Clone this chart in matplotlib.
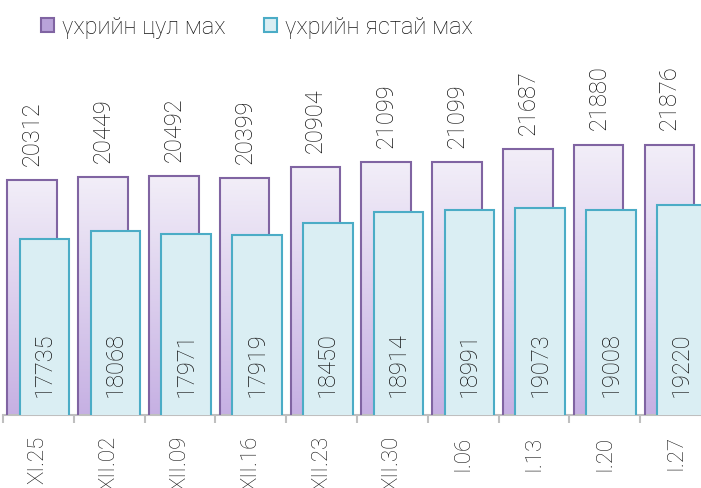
import matplotlib.pyplot as plt
import numpy as np
from matplotlib.colors import LinearSegmentedColormap

# өгөгдөл
dates = ["XI.25", "XII.02", "XII.09", "XII.16", "XII.23", "XII.30", "I.06", "I.13", "I.20", "I.27"]
tsul = [20312, 20449, 20492, 20399, 20904, 21099, 21099, 21687, 21880, 21876]
yastai = [17735, 18068, 17971, 17919, 18450, 18914, 18991, 19073, 19008, 19220]

plt.rcParams['font.family'] = ['Roboto', 'DejaVu Sans']
FONT = dict(fontsize=17, fontweight='light', color='#141414')

fig = plt.figure(figsize=(7.01, 4.89), dpi=100)
ax = fig.add_axes([3 / 701, 73 / 489, 708 / 701, 0.675])

x = np.arange(len(dates))
width = 0.70
shift = 0.087
ymin, ymax = 10000, 24500

purple_cmap = LinearSegmentedColormap.from_list("p", ["#f2eef8", "#c6b0e3"])
grad = np.linspace(0, 1, 256).reshape(-1, 1)

bars1 = ax.bar(x - shift, tsul, width, bottom=0, facecolor='none',
               edgecolor='#8064a2', linewidth=1.5, zorder=3, label="үхрийн цул мах")
for b in bars1:
    bx, bw, bh = b.get_x(), b.get_width(), b.get_height()
    im = ax.imshow(grad, cmap=purple_cmap, aspect='auto', origin='upper',
                   extent=(bx, bx + bw, ymin, bh), zorder=2)
    im.set_clip_path(b)

bars2 = ax.bar(x + shift, yastai, width, facecolor='#daeef3',
               edgecolor='#4bacc6', linewidth=1.5, zorder=4, label="үхрийн ястай мах")

for xi, v in zip(x, tsul):
    ax.annotate(str(v), (xi - shift, v), xytext=(0, 11), textcoords='offset points',
                rotation=90, ha='center', va='bottom', **FONT)
for xi, v in zip(x, yastai):
    ax.annotate(str(v), (xi + shift, ymin), xytext=(0, 14), textcoords='offset points',
                rotation=90, ha='center', va='bottom', zorder=5, **FONT)

ax.set_xlim(-0.5, len(dates) - 0.5)
ax.set_ylim(ymin, ymax)
ax.set_yticks([])
ax.set_xticks(x)
ax.set_xticklabels(dates, rotation=90, va='top', ha='center',
                   fontsize=16, fontweight='light', color='#141414')
ax.tick_params(axis='x', which='major', length=0, pad=14)
ax.set_xticks(np.arange(len(dates) + 1) - 0.5, minor=True)
ax.tick_params(axis='x', which='minor', length=6, width=1.5, color='#bfbfbf')
for s in ['left', 'right', 'top']:
    ax.spines[s].set_visible(False)
ax.spines['bottom'].set_color('#bfbfbf')
ax.spines['bottom'].set_linewidth(1.5)
ax.patch.set_visible(False)

fig.legend(handles=[bars1, bars2], loc='upper left', bbox_to_anchor=(20 / 701, 1.01),
           ncol=2, frameon=False, prop={'size': 17, 'weight': 'light'},
           handlelength=0.55, handleheight=0.55, handletextpad=0.35, columnspacing=1.6,
           labelcolor='#141414')
leg = fig.legends[0]
leg.legend_handles[0].set_facecolor('#b9a3d9')

fig.savefig("out.png", dpi=100)
